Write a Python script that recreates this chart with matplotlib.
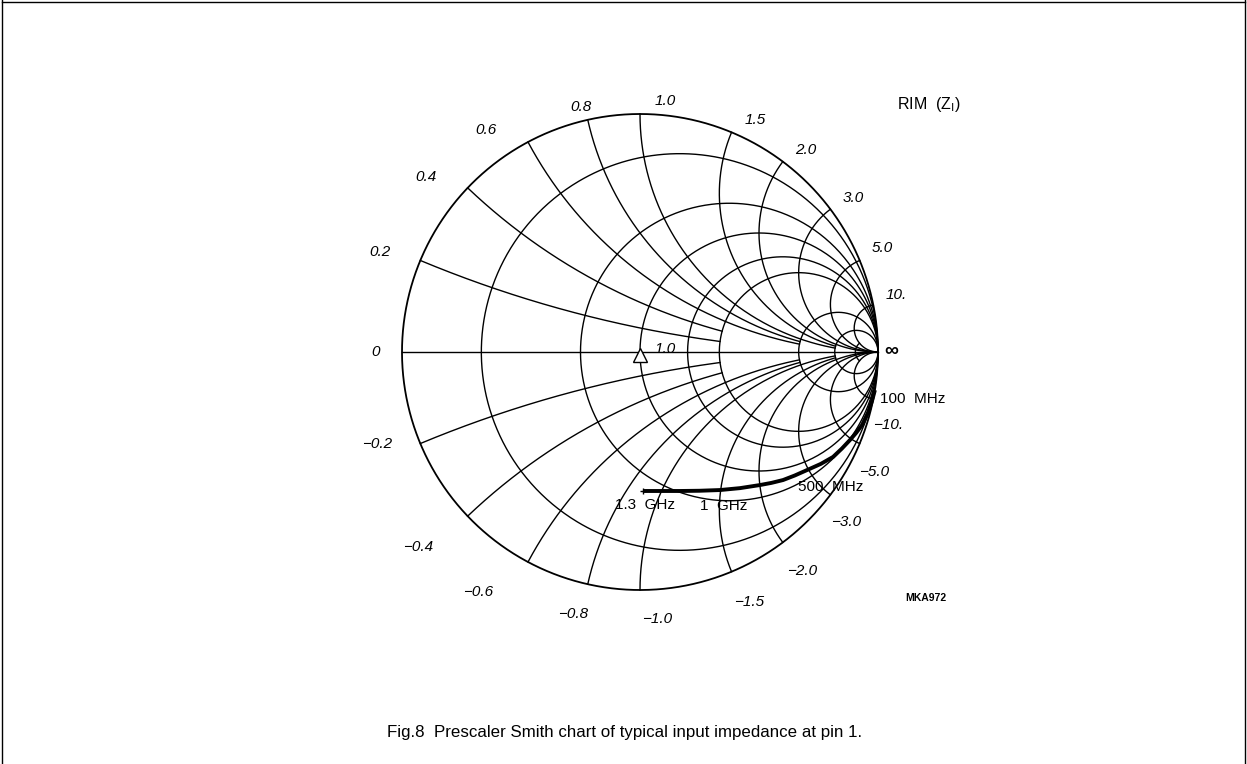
import numpy as np
import matplotlib
matplotlib.use("Agg")
import matplotlib.pyplot as plt
from matplotlib.lines import Line2D

plt.rcParams["font.family"] = ["Liberation Sans", "DejaVu Sans"]

W, H = 1247, 764
CX, CY, RAD = 640, 352, 238  # chart centre / radius in pixels

# resistance circles and how far (|x|) each one is drawn
res_circles = [0.2, 0.6, 1.0, 1.5, 2.0, 5.0, 10.0, 20.0]
res_xlimit = [np.inf, np.inf, np.inf, np.inf, np.inf, np.inf, np.inf, 10.0]
# reactance arcs and how far (r) each one is drawn
react_arcs = [0.2, 0.4, 0.6, 0.8, 1.0, 1.5, 2.0, 3.0, 5.0, 10.0]
react_rlimit = [2.0, 2.0, 5.0, 5.0, 10.0, 10.0, np.inf, np.inf, np.inf, np.inf]

# rim labels (reactance), positive then negative
pos_labels = ["0", "0.2", "0.4", "0.6", "0.8", "1.0", "1.5", "2.0", "3.0", "5.0", "10."]
neg_labels = ["\u22120.2", "\u22120.4", "\u22120.6", "\u22120.8", "\u22121.0",
              "\u22121.5", "\u22122.0", "\u22123.0", "\u22125.0", "\u221210."]

# measured input impedance locus (reflection coefficient), 100 MHz -> 1.3 GHz
gamma_re = [0.987, 0.975, 0.958, 0.933, 0.908, 0.882, 0.848, 0.811, 0.760, 0.702,
            0.650, 0.601, 0.552, 0.504, 0.420, 0.336, 0.250, 0.168, 0.013]
gamma_im = [-0.160, -0.205, -0.255, -0.307, -0.340, -0.370, -0.406, -0.441, -0.470, -0.496,
            -0.519, -0.538, -0.550, -0.559, -0.572, -0.580, -0.583, -0.584, -0.584]
freq_labels = ["100  MHz", "500  MHz", "1  GHz", "1.3  GHz"]


def gamma(z):
    return (z - 1) / (z + 1)


fig = plt.figure(figsize=(W / 100, H / 100), dpi=100)
ax = fig.add_axes([0, 0, 1, 1])
ax.set_xlim(-CX / RAD, (W - CX) / RAD)
ax.set_ylim((CY - H) / RAD, CY / RAD)
ax.axis("off")

kw = dict(color="black", lw=1.0)

# outer circle and real axis
t = np.linspace(0, 2 * np.pi, 800)
ax.plot(np.cos(t), np.sin(t), color="black", lw=1.3)
ax.plot([-1, 1], [0, 0], **kw)

for r, xl in zip(res_circles, res_xlimit):
    tt = np.linspace(-np.arctan(xl), np.arctan(xl), 600)
    tt = np.clip(tt, -np.pi / 2 + 1e-6, np.pi / 2 - 1e-6)
    g = gamma(r + 1j * np.tan(tt))
    ax.plot(g.real, g.imag, **kw)

for x, rl in zip(react_arcs, react_rlimit):
    tt = np.linspace(0, min(np.arctan(rl), np.pi / 2 - 1e-6), 600)
    for s in (1, -1):
        g = gamma(np.tan(tt) + 1j * s * x)
        ax.plot(g.real, g.imag, **kw)

# centre marker
ax.plot([0], [-0.012], marker="^", ms=9.5, mfc="white", mec="black", mew=1.0)

# impedance locus
ax.plot(gamma_re, gamma_im, color="black", lw=2.8, solid_capstyle="butt")
ax.plot(gamma_re[-1:], gamma_im[-1:], marker="+", ms=5, color="black", mew=1.0)


def put(px, py, s, **k):
    fig.text(px / W, 1 - py / H, s, **k)


lab = dict(fontsize=11, style="italic", ha="center", va="center")
pos_xy = [(376, 352), (380, 252), (426, 177), (486, 130), (581, 107), (665, 101),
          (755, 120), (806, 150), (853, 198), (882, 248), (896, 295)]
neg_xy = [(377, 444), (418, 547), (478, 592), (573, 614), (657, 619),
          (749, 602), (802, 571), (846, 522), (874, 472), (888, 425)]
for s, (px, py) in zip(pos_labels, pos_xy):
    put(px, py, s, **lab)
for s, (px, py) in zip(neg_labels, neg_xy):
    put(px, py, s, **lab)

put(665, 349, "1.0", **lab)
put(891, 351, "\u221e", fontsize=14, fontweight="bold", ha="center", va="center")
put(897, 105, "RIM  (Z$_{\\mathrm{ I}}$)", fontsize=11.5, ha="left", va="center")

fq = dict(fontsize=11, ha="left", va="center")
for s, (px, py) in zip(freq_labels, [(880, 399), (798, 487), (700, 506), (615, 505)]):
    put(px, py, s, **fq)

put(926, 598, "MKA972", fontsize=7.5, fontweight="bold", ha="center", va="center")
put(625, 733, "Fig.8  Prescaler Smith chart of typical input impedance at pin 1.",
    fontsize=12.2, ha="center", va="center")

# frame
for xs, ys in [([2, 2], [0, H]), ([2, W - 2], [2, 2]), ([W - 2, W - 2], [0, H])]:
    fig.add_artist(Line2D([x / W for x in xs], [1 - y / H for y in ys],
                          color="black", lw=1.0))

fig.savefig("out.png", dpi=100)
